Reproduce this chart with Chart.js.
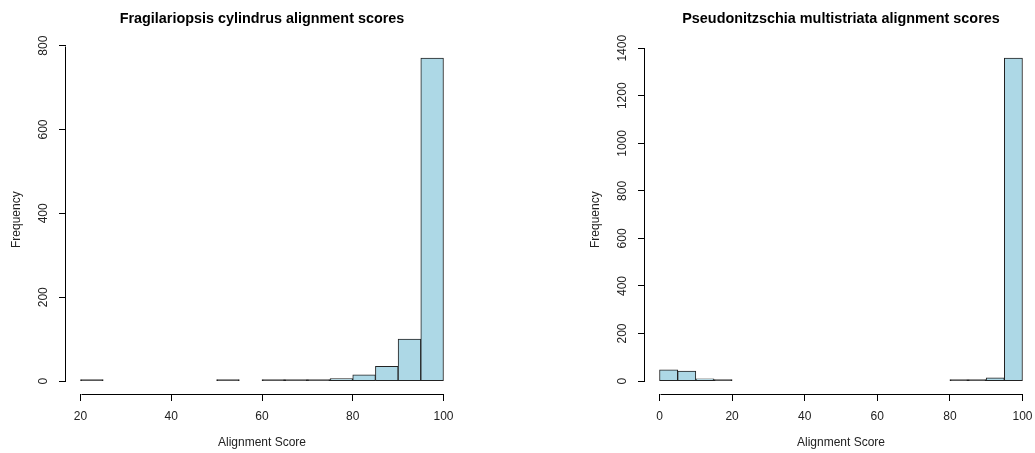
<!DOCTYPE html>
<html lang="en">
<head>
    <meta charset="UTF-8">
    <title>Alignment scores</title>
    <script src="https://cdn.jsdelivr.net/npm/chart.js"></script>
    <style>
        body { margin: 0; background: #fff; overflow: hidden; width: 1035px; height: 453px; position: relative; }
        .panel { position: absolute; top: 0; width: 518px; height: 453px; }
    </style>
</head>
<body>

    <div class="panel" style="left: 0px;"><canvas id="fcChart"></canvas></div>
    <div class="panel" style="left: 579px;"><canvas id="pmChart"></canvas></div>

    <script>
        // histogram bins are 5 wide
        const binWidth = 5;

        const fcTitle = 'Fragilariopsis cylindrus alignment scores';
        const fcBinStarts = [20, 25, 30, 35, 40, 45, 50, 55, 60, 65, 70, 75, 80, 85, 90, 95];
        const fcCounts    = [2, 0, 0, 0, 0, 0, 1, 0, 1, 2, 2, 6, 15, 35, 100, 770];
        const fcXTicks = [20, 40, 60, 80, 100];
        const fcYTicks = [0, 200, 400, 600, 800];

        const pmTitle = 'Pseudonitzschia multistriata alignment scores';
        const pmBinStarts = [0, 5, 10, 15, 20, 25, 30, 35, 40, 45, 50, 55, 60, 65, 70, 75, 80, 85, 90, 95];
        const pmCounts    = [47, 42, 10, 3, 0, 0, 0, 0, 0, 0, 0, 0, 0, 0, 0, 0, 2, 2, 14, 1358];
        const pmXTicks = [0, 20, 40, 60, 80, 100];
        const pmYTicks = [0, 200, 400, 600, 800, 1000, 1200, 1400];

        const xLabel = 'Alignment Score';
        const yLabel = 'Frequency';

        Chart.defaults.font.family = '"Liberation Sans", Arial, sans-serif';
        Chart.defaults.font.size = 12;
        Chart.defaults.color = '#000';

        // R draws the axis line only between the first and last tick
        const axisLines = {
            id: 'axisLines',
            afterDraw(chart) {
                const ctx = chart.ctx;
                ctx.save();
                ctx.strokeStyle = '#000';
                ctx.lineWidth = 1;
                ['x', 'y'].forEach(id => {
                    const s = chart.scales[id];
                    const a = s.getPixelForValue(s.ticks[0].value);
                    const b = s.getPixelForValue(s.ticks[s.ticks.length - 1].value);
                    ctx.beginPath();
                    if (s.isHorizontal()) {
                        const y = Math.round(s.top) + 0.5;
                        ctx.moveTo(Math.round(a) + 0.5, y);
                        ctx.lineTo(Math.round(b) + 0.5, y);
                    } else {
                        const x = Math.round(s.right) - 0.5;
                        ctx.moveTo(x, Math.round(a) + 0.5);
                        ctx.lineTo(x, Math.round(b) + 0.5);
                    }
                    ctx.stroke();
                });
                ctx.restore();
            }
        };

        function drawHist(canvasId, title, binStarts, counts, xTicks, yTicks, yTickPad) {
            const points = binStarts.map((s, i) => ({ x: s + binWidth / 2, y: counts[i] === 0 ? null : counts[i] }));

            // 4% extension like R's default axis range
            const xLo = binStarts[0], xHi = binStarts[binStarts.length - 1] + binWidth;
            const yHi = Math.max(...counts);
            const xPad = (xHi - xLo) * 0.04, yPad = yHi * 0.04;

            new Chart(document.getElementById(canvasId), {
                type: 'bar',
                data: {
                    datasets: [{
                        data: points,
                        // very short bars collapse to their outline, as in R
                        backgroundColor: c => {
                            const s = c.chart.scales.y;
                            const v = c.raw && c.raw.y;
                            if (!s || !v) return '#ADD8E6';
                            return Math.abs(s.getPixelForValue(0) - s.getPixelForValue(v)) < 2 ? '#222' : '#ADD8E6';
                        },
                        borderColor: '#222',
                        borderWidth: 1,
                        borderSkipped: false,
                        minBarLength: 1.5,
                        barPercentage: 1,
                        categoryPercentage: 1
                    }]
                },
                options: {
                    responsive: true,
                    maintainAspectRatio: false,
                    animation: false,
                    layout: { padding: { left: 0, right: 60, top: 0, bottom: 0 } },
                    plugins: {
                        legend: { display: false },
                        tooltip: { enabled: false },
                        title: {
                            display: true,
                            text: title,
                            fullSize: false,
                            font: { size: 14.4, weight: 'bold' },
                            padding: { top: 10, bottom: 18 }
                        }
                    },
                    scales: {
                        x: {
                            type: 'linear',
                            offset: false,
                            min: xLo - xPad,
                            max: xHi + xPad,
                            afterBuildTicks: s => { s.ticks = xTicks.map(v => ({ value: v })); },
                            afterFit: s => { s.height = 59; },
                            grid: { offset: false, drawOnChartArea: false, tickLength: 7, color: '#000' },
                            border: { display: false },
                            ticks: { padding: 8, maxRotation: 0, autoSkip: false, color: '#222', callback: v => String(v) },
                            title: { display: true, text: xLabel, color: '#222', padding: { top: 0, bottom: 3 } }
                        },
                        y: {
                            min: -yPad,
                            max: yHi + yPad,
                            afterBuildTicks: s => { s.ticks = yTicks.map(v => ({ value: v })); },
                            afterFit: s => { s.width = 66; },
                            grid: { drawOnChartArea: false, tickLength: 7, color: '#000' },
                            border: { display: false },
                            ticks: { minRotation: 90, maxRotation: 90, crossAlign: 'center', padding: yTickPad, autoSkip: false, color: '#222', callback: v => String(v) },
                            title: { display: true, text: yLabel, color: '#222', padding: { top: 9, bottom: 0 } }
                        }
                    }
                },
                plugins: [axisLines]
            });
        }

        drawHist('fcChart', fcTitle, fcBinStarts, fcCounts, fcXTicks, fcYTicks, 5);
        drawHist('pmChart', pmTitle, pmBinStarts, pmCounts, pmXTicks, pmYTicks, 2);
    </script>
</body>
</html>
